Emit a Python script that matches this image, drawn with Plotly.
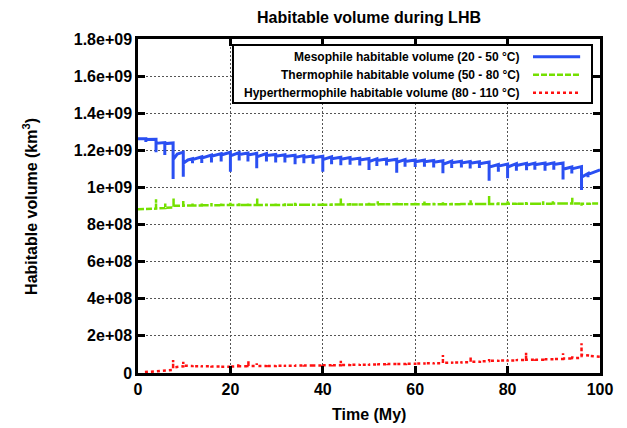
import plotly.graph_objects as go

# ---------------- data (values in units of 1e9 km^3) ----------------
# Mesophile: at each impact time -> level before, dip bottom, level just after
meso_t = [0, 1.7, 3.9, 5.8, 7.6, 8.5, 9.8, 10.8, 11.8, 13.8, 15.9, 18.0, 20.0, 21.9, 23.8, 25.7,
          27.8, 29.8, 31.8, 34.0, 35.9, 37.9, 40.0, 41.9, 43.9, 45.9, 48.0, 50.0, 51.7, 53.8,
          56.0, 57.8, 60.0, 62.0, 64.0, 66.0, 67.9, 70.0, 71.9, 73.9, 76.0, 78.0, 80.0, 81.9,
          84.1, 85.9, 88.1, 90.0, 92.0, 93.9, 96.0, 97.4, 100]
meso_before = [1.262, 1.262, 1.260, 1.242, 1.240, 1.180, 1.190, 1.148, 1.155, 1.165, 1.175, 1.182,
               1.190, 1.188, 1.186, 1.184, 1.182, 1.178, 1.176, 1.174, 1.172, 1.170, 1.168, 1.165,
               1.163, 1.161, 1.158, 1.156, 1.154, 1.153, 1.152, 1.150, 1.148, 1.147, 1.145, 1.144,
               1.142, 1.141, 1.140, 1.138, 1.137, 1.124, 1.126, 1.128, 1.130, 1.131, 1.132, 1.133,
               1.132, 1.110, 1.112, 1.075, 1.095]
meso_dip = [1.262, 1.245, 1.190, 1.175, 1.045, 1.180, 1.058, 1.148, 1.130, 1.132, 1.135, 1.140,
            1.085, 1.145, 1.140, 1.103, 1.140, 1.135, 1.135, 1.125, 1.130, 1.128, 1.085, 1.125,
            1.120, 1.122, 1.118, 1.094, 1.115, 1.118, 1.079, 1.112, 1.110, 1.112, 1.108, 1.076,
            1.105, 1.108, 1.102, 1.105, 1.036, 1.085, 1.049, 1.090, 1.092, 1.095, 1.090, 1.095,
            1.043, 1.075, 0.986, 1.055, 1.095]
meso_after = [1.262, 1.258, 1.238, 1.236, 1.150, 1.180, 1.130, 1.148, 1.150, 1.158, 1.168, 1.175,
              1.170, 1.178, 1.175, 1.165, 1.172, 1.168, 1.166, 1.162, 1.162, 1.160, 1.150, 1.155,
              1.152, 1.150, 1.148, 1.140, 1.145, 1.144, 1.135, 1.140, 1.138, 1.138, 1.136, 1.125,
              1.133, 1.132, 1.130, 1.128, 1.110, 1.115, 1.110, 1.118, 1.120, 1.122, 1.122, 1.124,
              1.098, 1.100, 1.055, 1.070, 1.095]

# Thermophile: level before, spike top, level after
thermo_t = [0, 3.9, 5.9, 7.7, 9.8, 11.8, 13.8, 15.9, 18.0, 20.0, 21.9, 23.8, 25.8, 27.8, 29.8,
            31.8, 34.0, 35.9, 37.9, 40.0, 41.9, 43.9, 45.9, 48.0, 50.0, 51.9, 53.8, 56.0, 57.8,
            60.0, 62.0, 64.0, 66.0, 67.9, 70.0, 72.0, 73.9, 76.0, 78.0, 80.0, 81.9, 84.0, 86.0,
            87.7, 89.8, 92.0, 94.0, 96.0, 97.8, 100]
thermo_before = [0.882, 0.886, 0.889, 0.892, 0.902, 0.903, 0.903, 0.904, 0.904, 0.905, 0.905,
                 0.905, 0.906, 0.906, 0.906, 0.906, 0.907, 0.907, 0.907, 0.907, 0.907, 0.908,
                 0.908, 0.908, 0.908, 0.908, 0.909, 0.909, 0.909, 0.909, 0.910, 0.910, 0.910,
                 0.910, 0.910, 0.911, 0.911, 0.911, 0.911, 0.911, 0.912, 0.912, 0.912, 0.912,
                 0.912, 0.913, 0.913, 0.913, 0.912, 0.913]
thermo_peak = [0.882, 0.937, 0.914, 0.941, 0.932, 0.915, 0.914, 0.916, 0.914, 0.922, 0.915,
               0.914, 0.940, 0.914, 0.916, 0.915, 0.918, 0.915, 0.914, 0.918, 0.915, 0.940,
               0.916, 0.915, 0.918, 0.926, 0.916, 0.918, 0.916, 0.922, 0.924, 0.918, 0.922,
               0.917, 0.918, 0.935, 0.918, 0.954, 0.920, 0.925, 0.918, 0.922, 0.920, 0.926,
               0.925, 0.922, 0.945, 0.902, 0.918, 0.913]
thermo_after = [0.882, 0.888, 0.890, 0.902, 0.903, 0.903, 0.904, 0.904, 0.905, 0.905, 0.905,
                0.906, 0.906, 0.906, 0.906, 0.907, 0.907, 0.907, 0.907, 0.907, 0.908, 0.908,
                0.908, 0.908, 0.908, 0.909, 0.909, 0.909, 0.909, 0.910, 0.910, 0.910, 0.910,
                0.910, 0.911, 0.911, 0.911, 0.911, 0.911, 0.912, 0.912, 0.912, 0.912, 0.912,
                0.913, 0.913, 0.913, 0.912, 0.913, 0.913]

# Hyperthermophile: level before, spike top, level after
hyper_t = [1.5, 7.3, 7.6, 9.8, 11.8, 13.8, 15.9, 18.0, 20.0, 21.7, 23.9, 25.7, 27.8, 29.8, 31.8,
           34.0, 35.9, 38.0, 40.0, 41.9, 43.9, 45.9, 48.0, 50.0, 52.0, 54.0, 56.0, 58.0, 60.0,
           62.0, 64.0, 66.0, 68.0, 70.0, 72.0, 74.0, 76.0, 78.0, 80.0, 82.0, 84.0, 86.0, 88.0,
           90.0, 92.0, 94.0, 96.0, 98.0, 100]
hyper_before = [0.005, 0.016, 0.016, 0.036, 0.038, 0.037, 0.036, 0.035, 0.034, 0.036, 0.037,
                0.038, 0.038, 0.038, 0.039, 0.039, 0.040, 0.041, 0.041, 0.042, 0.042, 0.043,
                0.044, 0.045, 0.046, 0.047, 0.048, 0.049, 0.050, 0.051, 0.052, 0.053, 0.056,
                0.057, 0.058, 0.060, 0.064, 0.066, 0.068, 0.068, 0.070, 0.072, 0.072, 0.074,
                0.076, 0.078, 0.082, 0.093, 0.088]
hyper_peak = [0.005, 0.016, 0.070, 0.061, 0.042, 0.040, 0.039, 0.038, 0.040, 0.050, 0.066,
              0.052, 0.045, 0.042, 0.044, 0.043, 0.045, 0.050, 0.046, 0.047, 0.066, 0.048,
              0.049, 0.050, 0.052, 0.052, 0.054, 0.054, 0.057, 0.058, 0.057, 0.097, 0.062,
              0.063, 0.088, 0.066, 0.075, 0.072, 0.073, 0.075, 0.109, 0.077, 0.080, 0.079,
              0.106, 0.090, 0.160, 0.096, 0.088]
hyper_after = [0.005, 0.016, 0.030, 0.040, 0.037, 0.036, 0.035, 0.034, 0.035, 0.037, 0.038,
               0.038, 0.038, 0.039, 0.039, 0.040, 0.041, 0.041, 0.042, 0.042, 0.043, 0.044,
               0.045, 0.046, 0.047, 0.048, 0.049, 0.050, 0.051, 0.052, 0.053, 0.055, 0.057,
               0.058, 0.060, 0.063, 0.066, 0.068, 0.068, 0.070, 0.072, 0.072, 0.074, 0.076,
               0.078, 0.080, 0.098, 0.092, 0.088]

x_ticks = [0, 20, 40, 60, 80, 100]
y_ticks = [0, 0.2, 0.4, 0.6, 0.8, 1.0, 1.2, 1.4, 1.6, 1.8]
y_tick_labels = ["0", "2e+08", "4e+08", "6e+08", "8e+08", "1e+09",
                 "1.2e+09", "1.4e+09", "1.6e+09", "1.8e+09"]

series_names = ["Mesophile habitable volume (20 - 50 °C)",
                "Thermophile habitable volume (50 - 80 °C)",
                "Hyperthermophile habitable volume (80 - 110 °C)"]


def polyline(ts, before, peak, after):
    xs, ys = [], []
    for t, b, p, a in zip(ts, before, peak, after):
        xs += [t, t, t]
        ys += [b, p, a]
    return xs, ys


FONT = "Liberation Sans, Arial, sans-serif"
BLUE = "#2a4ff2"
GREEN = "#74e000"
RED = "#ff1010"
styles = [dict(color=BLUE, width=3),
          dict(color=GREEN, width=2.5, dash="6px,2px"),
          dict(color=RED, width=2.5, dash="3px,3px")]

fig = go.Figure()
for (ts, b, p, a), st, nm in zip(
        [(meso_t, meso_before, meso_dip, meso_after),
         (thermo_t, thermo_before, thermo_peak, thermo_after),
         (hyper_t, hyper_before, hyper_peak, hyper_after)], styles, series_names):
    xs, ys = polyline(ts, b, p, a)
    fig.add_trace(go.Scatter(x=xs, y=ys, mode="lines", line=st, name=nm, showlegend=False))

axis_common = dict(showline=True, linecolor="black", linewidth=2.5, mirror="allticks",
                   ticks="inside", ticklen=7, tickwidth=2.5, tickcolor="black",
                   showgrid=True, gridcolor="#555555", gridwidth=1, griddash="2px,2px",
                   zeroline=False, automargin=False,
                   tickfont=dict(family=FONT, size=16, color="black", weight="bold"))

fig.update_layout(
    width=627, height=428,
    margin=dict(l=138, r=27, t=39, b=55, autoexpand=False),
    paper_bgcolor="white", plot_bgcolor="white",
    title=dict(text="<b>Habitable volume during LHB</b>", x=0.5, xref="paper",
               y=1 - 17 / 428, yref="container", yanchor="middle", xanchor="center",
               font=dict(family=FONT, size=16, color="black")),
    xaxis=dict(range=[0, 100], tickvals=x_ticks, **axis_common),
    yaxis=dict(range=[0, 1.8], tickvals=y_ticks, ticktext=y_tick_labels, **axis_common),
    showlegend=False,
)

# axis titles
fig.add_annotation(text="<b>Time (My)</b>", xref="paper", yref="paper", x=0.5, y=-0.123,
                   showarrow=False, xanchor="center", yanchor="middle",
                   font=dict(family=FONT, size=16, color="black"))
fig.add_annotation(text="<b>Habitable volume (km<sup>3</sup>)</b>", xref="paper", yref="paper",
                   x=-0.234, y=0.5, textangle=-90, showarrow=False,
                   xanchor="center", yanchor="middle",
                   font=dict(family=FONT, size=16, color="black"))

# legend box (gnuplot style: text right-aligned, sample on the right)
fig.add_shape(type="rect", xref="paper", yref="paper", x0=0.2056, x1=0.9827, y0=0.8084, y1=0.982,
              line=dict(color="black", width=2), fillcolor="white", layer="above")
rows_y = [0.947, 0.893, 0.839]
for nm, st, ry in zip(series_names, styles, rows_y):
    fig.add_annotation(text="<b>" + nm + "</b>", xref="paper", yref="paper", x=0.8305, y=ry,
                       showarrow=False, xanchor="right", yanchor="middle",
                       font=dict(family=FONT, size=12, color="black"))
    fig.add_shape(type="line", xref="paper", yref="paper", x0=0.855, x1=0.957, y0=ry, y1=ry,
                  line=st, layer="above")

fig.write_html("out.html", config={"displayModeBar": False},
               post_script="document.body.style.margin='0';document.body.style.overflow='hidden';")
